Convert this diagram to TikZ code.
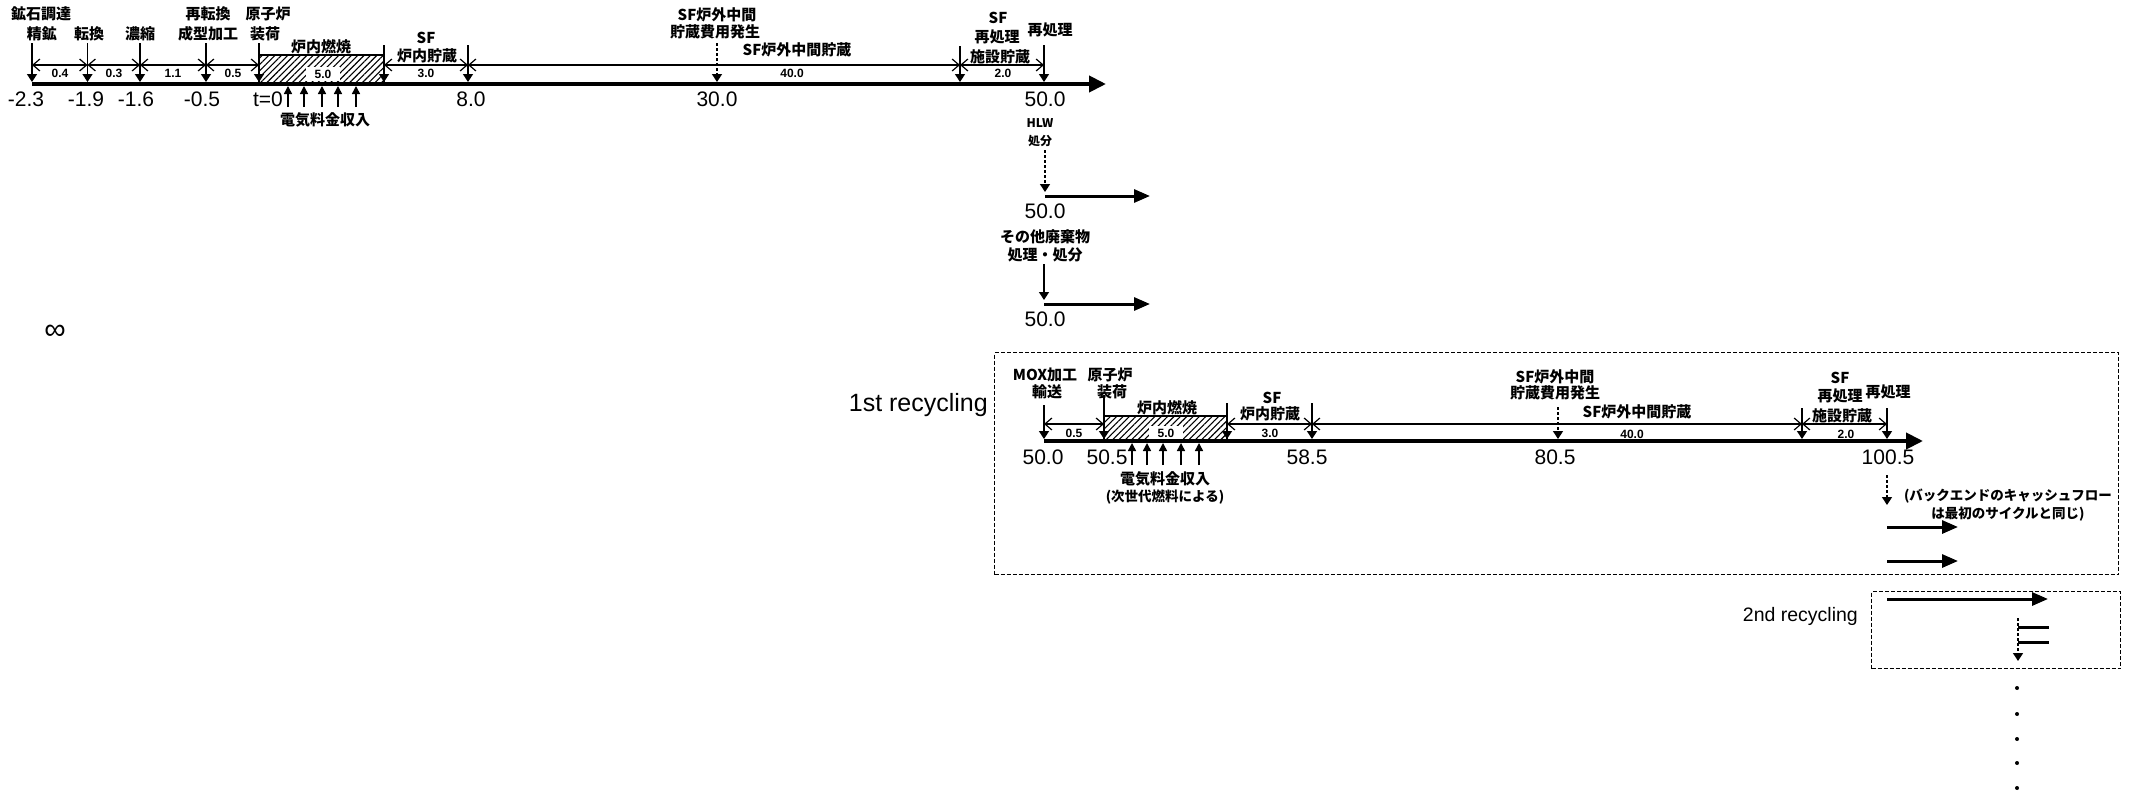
\documentclass[tikz,border=0pt]{standalone}
\usepackage{fontspec}
\setmainfont{Liberation Sans}
\newfontfamily\jp{Noto Sans CJK JP}
\usetikzlibrary{arrows.meta,patterns.meta}
\tikzset{
  mainaxis/.style={line width=4pt,-{Triangle[length=17pt,width=16pt]}},
  flowarr/.style={line width=3pt,-{Triangle[length=16pt,width=13pt]}},
  tickarr/.style={line width=1.5pt,-{Triangle[length=8pt,width=10pt]}},
  tickdash/.style={tickarr,dash pattern=on 3pt off 2pt},
  dimline/.style={line width=1.2pt,{Straight Barb[length=7pt,width=12pt,line width=1.2pt]}-{Straight Barb[length=7pt,width=12pt,line width=1.2pt]}},
  uparr/.style={line width=1.5pt,-{Triangle[length=8pt,width=8pt]}},
  lbl/.style={font=\jp\bfseries\fontsize{15}{16}\selectfont,inner sep=0pt},
  plbl/.style={font=\jp\bfseries\fontsize{13.5}{15}\selectfont,inner sep=0pt},
  slbl/.style={font=\jp\bfseries\fontsize{12}{13}\selectfont,inner sep=0pt},
  ival/.style={font=\bfseries\fontsize{12}{13}\selectfont,inner sep=0pt},
  num/.style={font=\fontsize{21}{22}\selectfont,inner sep=0pt},
  burnbox/.style={draw,line width=1.2pt,pattern={Lines[angle=45,distance=4.5pt,line width=1.1pt]}},
  recbox/.style={draw,line width=1.4pt,dash pattern=on 4pt off 2pt},
  whitelbl/.style={ival,fill=white,inner xsep=4pt,inner ysep=3pt},
}
\begin{document}
\begin{tikzpicture}[x=1pt,y=-1pt]
\fill[white] (0,0) rectangle (2131,795);
\useasboundingbox (0,0) rectangle (2131,795);

% ================= first timeline =================
\coordinate (ay) at (0,84);
\coordinate (dy) at (0,65);
\coordinate (by) at (0,55);
\foreach \n/\x/\t in {1/32/43,2/87.5/43,3/140/43,4/206/43,5/259/43,6/384/45,7/468/45,8/717/43,9/960/46,10/1044/45}{
  \coordinate (k\n) at (\x,82);
  \coordinate (k\n u) at (\x,\t);
}
\coordinate (tipA) at (1106,84);
\draw[burnbox] (k5|-by) rectangle (k6|-ay);
\node[whitelbl,minimum width=34pt] (bv5) at (323,74) {5.0};
\draw[mainaxis] (k1|-ay) -- (tipA);
\foreach \n in {1,2,3,4,5,6,7,9,10}{ \draw[tickarr] (k\n u) -- (k\n); }
\draw[tickdash] (k8u) -- (k8);
\draw[dimline] (k1|-dy) -- (k2|-dy);
\draw[dimline] (k2|-dy) -- (k3|-dy);
\draw[dimline] (k3|-dy) -- (k4|-dy);
\draw[dimline] (k4|-dy) -- (k5|-dy);
\draw[dimline] (k6|-dy) -- (k7|-dy);
\draw[dimline] (k7|-dy) -- (k9|-dy);
\draw[dimline] (k9|-dy) -- (k10|-dy);

\node[ival] (i1) at (60,73) {0.4};
\node[ival] (i2) at (114,73) {0.3};
\node[ival] (i3) at (173,73) {1.1};
\node[ival] (i4) at (233,73) {0.5};
\node[ival] (i6) at (426,73) {3.0};
\node[ival] (i7) at (792,73) {40.0};
\node[ival] (i8) at (1003,73) {2.0};

\node[lbl] (l1) at (41,14) {鉱石調達};
\node[lbl] (l2) at (42,34) {精鉱};
\node[lbl] (l3) at (89,34) {転換};
\node[lbl] (l4) at (140,34) {濃縮};
\node[lbl] (l5) at (208,14) {再転換};
\node[lbl] (l6) at (208,34) {成型加工};
\node[lbl] (l7) at (268,14) {原子炉};
\node[lbl] (l8) at (265,34) {装荷};
\node[lbl] (l9) at (321,47) {炉内燃焼};
\node[lbl] (l10) at (426,38) {SF};
\node[lbl] (l11) at (427,56) {炉内貯蔵};
\node[lbl] (l12) at (717,15) {SF炉外中間};
\node[lbl] (l13) at (715,32) {貯蔵費用発生};
\node[lbl] (l14) at (797,50) {SF炉外中間貯蔵};
\node[lbl] (l15) at (998,18) {SF};
\node[lbl] (l16) at (997,37) {再処理};
\node[lbl] (l17) at (1000,57) {施設貯蔵};
\node[lbl] (l18) at (1050,30) {再処理};

\node[num] (n1) at (26,99) {-2.3};
\node[num] (n2) at (86,99) {-1.9};
\node[num] (n3) at (136,99) {-1.6};
\node[num] (n4) at (202,99) {-0.5};
\node[num] (n5) at (268,99) {t=0};
\node[num] (n6) at (471,99) {8.0};
\node[num] (n7) at (717,99) {30.0};
\node[num] (n8) at (1045,99) {50.0};

\foreach \n/\x in {1/288,2/304,3/322,4/338,5/356}{
  \coordinate (ub\n) at (\x,107);
  \coordinate (ut\n) at (\x,86);
  \draw[uparr] (ub\n) -- (ut\n);
}
\node[lbl] (rev1) at (325,120) {電気料金収入};

% ================= HLW / other waste =================
\node[slbl] (hlw1) at (1040,123) {HLW};
\node[slbl] (hlw2) at (1040,141) {処分};
\coordinate (h1) at (1045,150);
\coordinate (h2) at (1045,192);
\coordinate (h3) at (1045,196);
\coordinate (h4) at (1150,196);
\draw[tickdash] (h1) -- (h2);
\draw[flowarr] (h3) -- (h4);
\node[num] (hn) at (1045,211) {50.0};

\node[lbl] (ow1) at (1045,237) {その他廃棄物};
\node[lbl] (ow2) at (1045,255) {処理・処分};
\coordinate (o1) at (1044,264);
\coordinate (o2) at (1044,300);
\coordinate (o3) at (1044,304);
\coordinate (o4) at (1150,304);
\draw[tickarr] (o1) -- (o2);
\draw[flowarr] (o3) -- (o4);
\node[num] (on) at (1045,319) {50.0};

\node[font=\fontsize{30}{30}\selectfont,inner sep=0pt] (inf) at (55,332) {∞};

% ================= 1st recycling =================
\node[recbox,minimum width=1124pt,minimum height=222pt,anchor=north west,inner sep=0pt] (box1) at (994,352) {};
\node[font=\fontsize{25}{25}\selectfont,inner sep=0pt,anchor=east] (rc1) at (988,405) {1st recycling};

\coordinate (sy) at (0,441);
\coordinate (sd) at (0,424);
\coordinate (sb) at (0,416);
\foreach \n/\x/\t in {1/1044/405,2/1104/395,3/1227/403,4/1312/403,5/1558/407,6/1802/408,7/1887/408}{
  \coordinate (s\n) at (\x,439);
  \coordinate (s\n u) at (\x,\t);
}
\coordinate (tipB) at (1923,441);
\draw[burnbox] (s2|-sb) rectangle (s3|-sy);
\node[whitelbl,minimum width=34pt] (bv5b) at (1166,433) {5.0};
\draw[mainaxis] (s1|-sy) -- (tipB);
\foreach \n in {1,2,3,4,6,7}{ \draw[tickarr] (s\n u) -- (s\n); }
\draw[tickdash] (s5u) -- (s5);
\draw[dimline] (s1|-sd) -- (s2|-sd);
\draw[dimline] (s3|-sd) -- (s4|-sd);
\draw[dimline] (s4|-sd) -- (s6|-sd);
\draw[dimline] (s6|-sd) -- (s7|-sd);

\node[ival] (j1) at (1074,433) {0.5};
\node[ival] (j2) at (1270,433) {3.0};
\node[ival] (j3) at (1632,434) {40.0};
\node[ival] (j4) at (1846,434) {2.0};

\node[lbl] (m1) at (1045,375) {MOX加工};
\node[lbl] (m2) at (1047,392) {輸送};
\node[lbl] (m3) at (1110,375) {原子炉};
\node[lbl] (m4) at (1112,392) {装荷};
\node[lbl] (m5) at (1167,408) {炉内燃焼};
\node[lbl] (m6) at (1272,398) {SF};
\node[lbl] (m7) at (1270,414) {炉内貯蔵};
\node[lbl] (m8) at (1555,377) {SF炉外中間};
\node[lbl] (m9) at (1555,393) {貯蔵費用発生};
\node[lbl] (m10) at (1637,412) {SF炉外中間貯蔵};
\node[lbl] (m11) at (1840,378) {SF};
\node[lbl] (m12) at (1840,396) {再処理};
\node[lbl] (m13) at (1842,416) {施設貯蔵};
\node[lbl] (m14) at (1888,392) {再処理};

\node[num] (p1) at (1043,457) {50.0};
\node[num] (p2) at (1107,457) {50.5};
\node[num] (p3) at (1307,457) {58.5};
\node[num] (p4) at (1555,457) {80.5};
\node[num] (p5) at (1888,457) {100.5};

\foreach \n/\x in {1/1132,2/1147,3/1163,4/1181,5/1199}{
  \coordinate (vb\n) at (\x,465);
  \coordinate (vt\n) at (\x,443);
  \draw[uparr] (vb\n) -- (vt\n);
}
\node[lbl] (rev2) at (1165,479) {電気料金収入};
\node[plbl] (rev3) at (1165,497) {(次世代燃料による)};

\coordinate (e1) at (1887,475);
\coordinate (e2) at (1887,505);
\draw[tickdash] (e1) -- (e2);
\node[plbl] (be1) at (2008,496) {(バックエンドのキャッシュフロー};
\node[plbl] (be2) at (2008,514) {は最初のサイクルと同じ)};
\coordinate (f1) at (1887,527);
\coordinate (f2) at (1958,527);
\coordinate (f3) at (1887,561);
\coordinate (f4) at (1958,561);
\draw[flowarr] (f1) -- (f2);
\draw[flowarr] (f3) -- (f4);

% ================= 2nd recycling =================
\node[recbox,minimum width=249pt,minimum height=77pt,anchor=north west,inner sep=0pt] (box2) at (1871,591) {};
\node[font=\fontsize{19.5}{20}\selectfont,inner sep=0pt,anchor=east] (rc2) at (1858,616) {2nd recycling};
\coordinate (g1) at (1887,599);
\coordinate (g2) at (2048,599);
\draw[flowarr] (g1) -- (g2);
\coordinate (q1) at (2018,618);
\coordinate (q2) at (2018,661);
\draw[tickdash] (q1) -- (q2);
\coordinate (r1) at (2018,627);
\coordinate (r2) at (2049,627);
\coordinate (r3) at (2018,642);
\coordinate (r4) at (2049,642);
\draw[line width=3pt] (r1) -- (r2);
\draw[line width=3pt] (r3) -- (r4);
\foreach \y in {688,714,739,763,788}{ \fill (2017,\y) circle (2pt); }
\end{tikzpicture}
\end{document}
